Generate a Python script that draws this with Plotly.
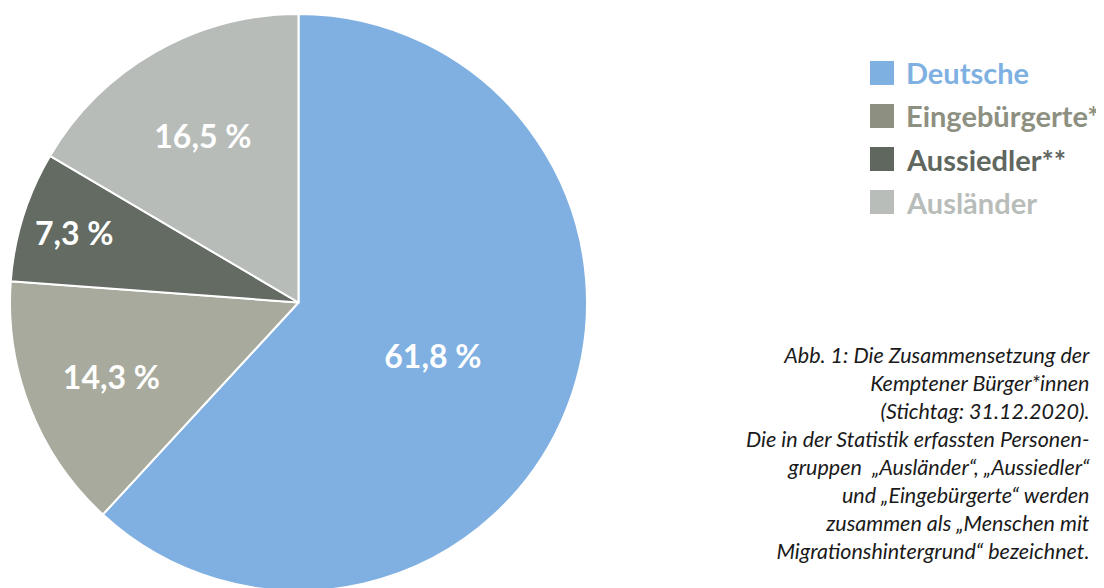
import plotly.graph_objects as go

# Zusammensetzung der Kemptener Bürger*innen, Stichtag 31.12.2020
groups = ["Deutsche", "Eingebürgerte", "Aussiedler", "Ausländer"]
legend_names = ["Deutsche", "Eingebürgerte*", "Aussiedler**", "Ausländer"]
shares = [61.8, 14.3, 7.3, 16.5]
labels = ["61,8 %", "14,3 %", "7,3 %", "16,5 %"]

pie_colors = ["#80b0e2", "#a7aa9c", "#636b63", "#b7bcb9"]
legend_colors = ["#7eb0e2", "#8d9080", "#5f675f", "#b8bdba"]

caption = ("Abb. 1: Die Zusammensetzung der<br>"
           "Kemptener Bürger*innen<br>"
           "(Stichtag: 31.12.2020).<br>"
           "Die in der Statistik erfassten Personen-<br>"
           "gruppen  „Ausländer“, „Aussiedler“<br>"
           "und „Eingebürgerte“ werden<br>"
           "zusammen als „Menschen mit<br>"
           "Migrationshintergrund“ bezeichnet.")

W, H = 1104, 588
OFF = 8  # page body margin shifts the figure by 8px

fig = go.Figure()
fig.add_trace(go.Pie(
    labels=groups,
    values=shares,
    text=labels,
    textinfo="text",
    textposition="inside",
    insidetextorientation="horizontal",
    textfont=dict(family="Lato", size=32, color="white", weight="bold"),
    marker=dict(colors=pie_colors, line=dict(color="white", width=2)),
    sort=False,
    direction="clockwise",
    rotation=0,
    hole=0,
    showlegend=False,
    domain=dict(x=[2 / W, 579 / W], y=[5 / H, 582 / H]),
))

# hand-made legend: coloured squares with coloured bold names
for i, (name, col) in enumerate(zip(legend_names, legend_colors)):
    yc = 73 + i * 43 - OFF
    fig.add_shape(type="rect", xref="paper", yref="paper",
                  x0=(870 - OFF) / W, x1=(894 - OFF) / W,
                  y0=1 - (yc + 12) / H, y1=1 - (yc - 12) / H,
                  fillcolor=col, line=dict(width=0))
    fig.add_annotation(x=(904 - OFF) / W, y=1 - yc / H, xref="paper", yref="paper",
                       text=name, showarrow=False, xanchor="left", yanchor="middle",
                       font=dict(family="Lato", size=29, color=col, weight="bold"))

fig.add_annotation(x=(1092 - OFF) / W, y=1 - (340 - OFF) / H, xref="paper", yref="paper",
                   text=caption, showarrow=False, xanchor="right", yanchor="top",
                   align="right",
                   font=dict(family="Lato", size=21.5, color="#1a1a1a", style="italic"))

fig.update_layout(
    width=W, height=H,
    margin=dict(l=0, r=0, t=0, b=0),
    paper_bgcolor="white",
    plot_bgcolor="white",
)

fig.write_html("out.html")
